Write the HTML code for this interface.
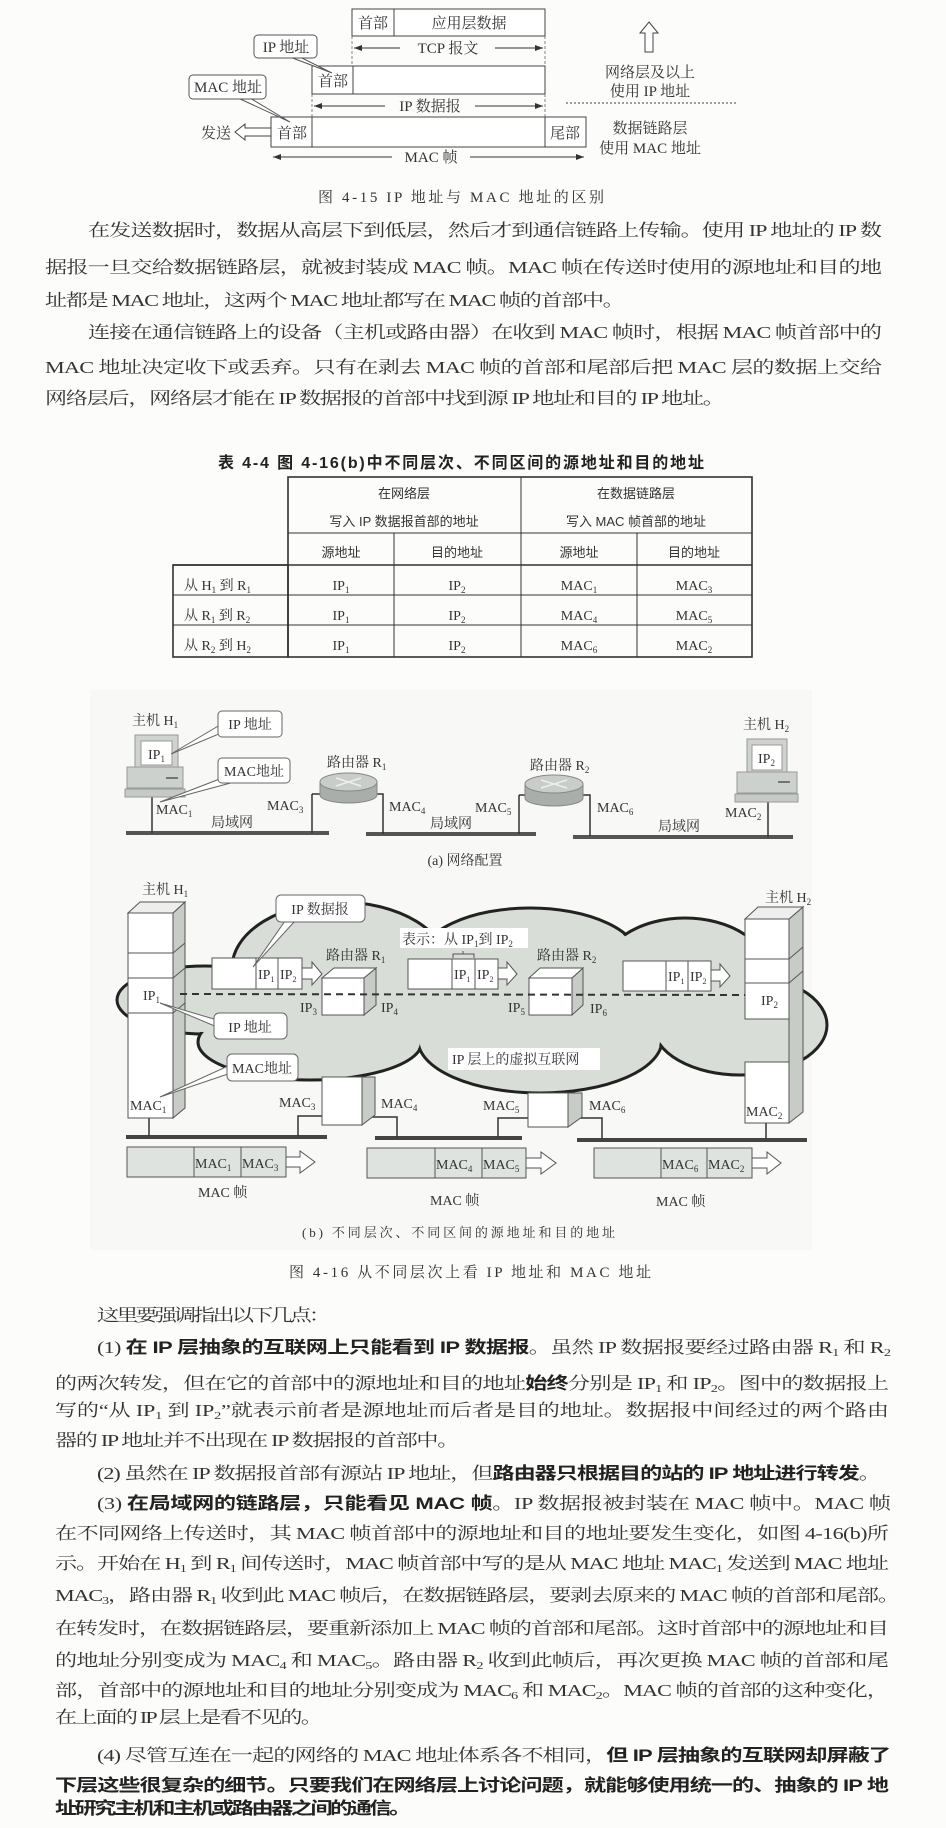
<!DOCTYPE html>
<html><head><meta charset="utf-8"><style>
html,body{margin:0;padding:0;background:#fcfcfb;}
svg{display:block}
.s{font-family:"Liberation Serif","Noto Serif CJK SC",serif;fill:#333;}
.h{font-family:"Liberation Sans","Noto Sans CJK SC",sans-serif;fill:#333;}
.b{font-family:"Liberation Sans","Noto Sans CJK SC",sans-serif;font-weight:bold;fill:#222;}
</style></head><body>
<svg width="946" height="1828" viewBox="0 0 946 1828" xmlns="http://www.w3.org/2000/svg">
<defs>
<marker id="ah" markerWidth="8" markerHeight="6" refX="8" refY="3" orient="auto"><path d="M0,0 L8,3 L0,6 z" fill="#333"/></marker>
</defs>
<rect x="0" y="0" width="946" height="1828" fill="#fcfcfb"/>
<rect x="90" y="690" width="722" height="560" fill="#f8f8f7"/>

<!-- FIG 4-15 -->
<g stroke="#444" stroke-width="1" fill="#fff">
<rect x="352" y="9" width="193" height="27"/>
<line x1="394" y1="9" x2="394" y2="36"/>
<rect x="312" y="66" width="233" height="28"/>
<line x1="353" y1="66" x2="353" y2="94"/>
<rect x="271" y="117" width="315" height="30"/>
<line x1="312" y1="117" x2="312" y2="147"/>
<line x1="545" y1="117" x2="545" y2="147"/>
</g>
<g stroke="#666" stroke-width="0.8" stroke-dasharray="3,2">
<line x1="352" y1="36" x2="352" y2="66"/><line x1="545" y1="36" x2="545" y2="66"/>
<line x1="312" y1="94" x2="312" y2="117"/><line x1="545" y1="94" x2="545" y2="117"/>
</g>
<line x1="566" y1="103" x2="737" y2="103" stroke="#666" stroke-width="1.2" stroke-dasharray="2,2"/>
<g stroke="#333" stroke-width="1">
<line x1="400" y1="48" x2="354" y2="48" marker-end="url(#ah)"/><line x1="495" y1="48" x2="543" y2="48" marker-end="url(#ah)"/>
<line x1="385" y1="106" x2="314" y2="106" marker-end="url(#ah)"/><line x1="475" y1="106" x2="543" y2="106" marker-end="url(#ah)"/>
<line x1="392" y1="157" x2="273" y2="157" marker-end="url(#ah)"/><line x1="470" y1="157" x2="584" y2="157" marker-end="url(#ah)"/>
</g>
<text class="s" font-size="15" x="373" y="28" text-anchor="middle">首部</text>
<text class="s" font-size="15" x="469" y="28" text-anchor="middle">应用层数据</text>
<text class="s" font-size="15" x="448" y="53" text-anchor="middle">TCP 报文</text>
<text class="s" font-size="15" x="333" y="86" text-anchor="middle">首部</text>
<text class="s" font-size="15" x="430" y="111" text-anchor="middle">IP 数据报</text>
<text class="s" font-size="15" x="292" y="138" text-anchor="middle">首部</text>
<text class="s" font-size="15" x="565" y="138" text-anchor="middle">尾部</text>
<text class="s" font-size="15" x="431" y="162" text-anchor="middle">MAC 帧</text>
<text class="s" font-size="15" x="201" y="138">发送</text>
<path d="M235,132 L245,124 L245,128 L271,128 L271,136 L245,136 L245,140 Z" fill="#fff" stroke="#444"/>
<path d="M649,22 L658,33 L653,33 L653,52 L645,52 L645,33 L640,33 Z" fill="#fff" stroke="#444"/>
<text class="s" font-size="15" x="650" y="77" text-anchor="middle">网络层及以上</text>
<text class="s" font-size="15" x="650" y="96" text-anchor="middle">使用 IP 地址</text>
<text class="s" font-size="15" x="650" y="133" text-anchor="middle">数据链路层</text>
<text class="s" font-size="15" x="650" y="153" text-anchor="middle">使用 MAC 地址</text>
<g fill="#fff" stroke="#555">
<path d="M290,57 L332,73 L300,57 Z"/>
<rect x="254" y="35" width="63" height="23" rx="4"/>
<path d="M238,98 L290,122 L250,98 Z"/>
<rect x="189" y="75" width="77" height="24" rx="4"/>
</g>
<text class="s" font-size="15" x="286" y="52" text-anchor="middle">IP 地址</text>
<text class="s" font-size="15" x="228" y="92" text-anchor="middle">MAC 地址</text>
<text class="s" font-size="15" x="318" y="202" textLength="286">图 4-15   IP 地址与 MAC 地址的区别</text>

<!-- paragraph 1 -->
<g class="s" font-size="17">
<text transform="translate(88,236) scale(1.3,1)" textLength="610.8" lengthAdjust="spacing">在发送数据时，数据从高层下到低层，然后才到通信链路上传输。使用 IP 地址的 IP 数</text>
<text transform="translate(45,273) scale(1.3,1)" textLength="643.8" lengthAdjust="spacing">据报一旦交给数据链路层，就被封装成 MAC 帧。MAC 帧在传送时使用的源地址和目的地</text>
<text transform="translate(45,306) scale(1.3,1)" textLength="446" lengthAdjust="spacing">址都是 MAC 地址，这两个 MAC 地址都写在 MAC 帧的首部中。</text>
<text transform="translate(88,338) scale(1.3,1)" textLength="610.8" lengthAdjust="spacing">连接在通信链路上的设备（主机或路由器）在收到 MAC 帧时，根据 MAC 帧首部中的</text>
<text transform="translate(45,373) scale(1.3,1)" textLength="643.8" lengthAdjust="spacing">MAC 地址决定收下或丢弃。只有在剥去 MAC 帧的首部和尾部后把 MAC 层的数据上交给</text>
<text transform="translate(45,404) scale(1.3,1)" textLength="523" lengthAdjust="spacing">网络层后，网络层才能在 IP 数据报的首部中找到源 IP 地址和目的 IP 地址。</text>
</g>

<!-- TABLE -->
<text class="b" font-size="16" x="218" y="468" textLength="486">表 4-4   图 4-16(b)中不同层次、不同区间的源地址和目的地址</text>
<g stroke="#333" fill="none">
<rect x="288" y="477" width="464" height="180" stroke-width="1.6"/>
<rect x="173" y="565" width="115" height="92" stroke-width="1.6"/>
<line x1="288" y1="533" x2="752" y2="533"/>
<line x1="173" y1="565" x2="752" y2="565" stroke-width="1.4"/>
<line x1="173" y1="595" x2="752" y2="595"/>
<line x1="173" y1="625" x2="752" y2="625"/>
<line x1="521" y1="477" x2="521" y2="657"/>
<line x1="394" y1="533" x2="394" y2="657"/>
<line x1="637" y1="533" x2="637" y2="657"/>
</g>
<g class="h" font-size="13" text-anchor="middle">
<text x="404" y="498">在网络层</text><text x="404" y="526">写入 IP 数据报首部的地址</text>
<text x="636" y="498">在数据链路层</text><text x="636" y="526">写入 MAC 帧首部的地址</text>
<text x="341" y="557">源地址</text><text x="457" y="557">目的地址</text>
<text x="579" y="557">源地址</text><text x="694" y="557">目的地址</text>
</g>
<g class="s" font-size="14">
<text x="184" y="590">从 H<tspan font-size="9" dy="3">1</tspan><tspan dy="-3"> 到 R</tspan><tspan font-size="9" dy="3">1</tspan></text>
<text x="184" y="620">从 R<tspan font-size="9" dy="3">1</tspan><tspan dy="-3"> 到 R</tspan><tspan font-size="9" dy="3">2</tspan></text>
<text x="184" y="650">从 R<tspan font-size="9" dy="3">2</tspan><tspan dy="-3"> 到 H</tspan><tspan font-size="9" dy="3">2</tspan></text>
<g text-anchor="middle">
<text x="341" y="590">IP<tspan font-size="9" dy="3">1</tspan></text><text x="457" y="590">IP<tspan font-size="9" dy="3">2</tspan></text>
<text x="579" y="590">MAC<tspan font-size="9" dy="3">1</tspan></text><text x="694" y="590">MAC<tspan font-size="9" dy="3">3</tspan></text>
<text x="341" y="620">IP<tspan font-size="9" dy="3">1</tspan></text><text x="457" y="620">IP<tspan font-size="9" dy="3">2</tspan></text>
<text x="579" y="620">MAC<tspan font-size="9" dy="3">4</tspan></text><text x="694" y="620">MAC<tspan font-size="9" dy="3">5</tspan></text>
<text x="341" y="650">IP<tspan font-size="9" dy="3">1</tspan></text><text x="457" y="650">IP<tspan font-size="9" dy="3">2</tspan></text>
<text x="579" y="650">MAC<tspan font-size="9" dy="3">6</tspan></text><text x="694" y="650">MAC<tspan font-size="9" dy="3">2</tspan></text>
</g></g>

<!-- FIG 4-16 (a) -->
<g fill="#555">
<rect x="126" y="831" width="203" height="4"/>
<rect x="366" y="832" width="170" height="4"/>
<rect x="573" y="835" width="220" height="4"/>
</g>
<g stroke="#333" stroke-width="1.5" fill="none">
<path d="M152,797 V833"/><path d="M312,794 H320 M312,794 V833"/><path d="M377,794 H383 V834"/>
<path d="M519,795 H525 M519,795 V834"/><path d="M583,795 H590 V836"/><path d="M768,802 V837"/>
</g>
<g stroke="#999" stroke-width="1">
<rect x="135" y="735" width="43" height="32" fill="#cfd3cf"/>
<rect x="141" y="741" width="31" height="24" fill="#fff"/>
<rect x="127" y="767" width="56" height="21" fill="#cdd1cd"/>
<rect x="125" y="789" width="60" height="8" fill="#c6cac6"/>
</g>
<line x1="166" y1="778" x2="178" y2="778" stroke="#555" stroke-width="1.5"/>
<g stroke="#999" stroke-width="1">
<rect x="747" y="739" width="40" height="33" fill="#cfd3cf"/>
<rect x="752" y="745" width="30" height="25" fill="#fff"/>
<rect x="737" y="772" width="60" height="21" fill="#cdd1cd"/>
<rect x="735" y="794" width="63" height="8" fill="#c6cac6"/>
</g>
<line x1="778" y1="782" x2="790" y2="782" stroke="#555" stroke-width="1.5"/>
<g stroke="#888" stroke-width="1">
<path d="M320,782 V795 A28.5,8 0 0 0 377,795 V782" fill="#a9aeaa"/>
<ellipse cx="348.5" cy="782" rx="28.5" ry="9" fill="#c9cdc9"/>
<path d="M525,784 V798 A29,8 0 0 0 583,798 V784" fill="#a9aeaa"/>
<ellipse cx="554" cy="784" rx="29" ry="9" fill="#c9cdc9"/>
</g>
<g stroke="#eee" stroke-width="1.5"><path d="M336,778 L361,786 M361,778 L336,786"/><path d="M541,780 L567,788 M567,780 L541,788"/></g>
<g fill="#fff" stroke="#666">
<path d="M171,754 L220,725 L226,731 Z"/>
<rect x="218" y="711" width="64" height="26" rx="4"/>
<path d="M160,802 L230,775 L238,781 Z"/>
<rect x="218" y="758" width="72" height="25" rx="4"/>
</g>
<g class="s" font-size="14">
<text x="132" y="725">主机 H<tspan font-size="9" dy="3">1</tspan></text>
<text x="743" y="729">主机 H<tspan font-size="9" dy="3">2</tspan></text>
<text x="148" y="759">IP<tspan font-size="9" dy="3">1</tspan></text>
<text x="758" y="763">IP<tspan font-size="9" dy="3">2</tspan></text>
<text x="250" y="729" text-anchor="middle">IP 地址</text>
<text x="254" y="776" text-anchor="middle">MAC地址</text>
<text x="327" y="767">路由器 R<tspan font-size="9" dy="3">1</tspan></text>
<text x="530" y="770">路由器 R<tspan font-size="9" dy="3">2</tspan></text>
<text x="156" y="814">MAC<tspan font-size="9" dy="3">1</tspan></text>
<text x="267" y="810">MAC<tspan font-size="9" dy="3">3</tspan></text>
<text x="389" y="811">MAC<tspan font-size="9" dy="3">4</tspan></text>
<text x="475" y="812">MAC<tspan font-size="9" dy="3">5</tspan></text>
<text x="597" y="812">MAC<tspan font-size="9" dy="3">6</tspan></text>
<text x="725" y="817">MAC<tspan font-size="9" dy="3">2</tspan></text>
<text x="211" y="827">局域网</text><text x="430" y="828">局域网</text><text x="658" y="831">局域网</text>
<text x="465" y="865" text-anchor="middle">(a) 网络配置</text>
</g>

<!-- FIG 4-16 (b) cloud -->
<g stroke="#222" stroke-width="3" fill="#d9ddd8">
<ellipse cx="205" cy="1000" rx="88" ry="34"/>
<ellipse cx="340" cy="968" rx="108" ry="66"/>
<ellipse cx="310" cy="1042" rx="112" ry="38"/>
<ellipse cx="530" cy="960" rx="110" ry="52"/>
<ellipse cx="540" cy="1040" rx="122" ry="53"/>
<ellipse cx="685" cy="975" rx="85" ry="57"/>
<ellipse cx="740" cy="1025" rx="87" ry="50"/>
</g>
<g fill="#d9ddd8">
<ellipse cx="205" cy="1000" rx="86" ry="32"/>
<ellipse cx="340" cy="968" rx="106" ry="64"/>
<ellipse cx="310" cy="1042" rx="110" ry="36"/>
<ellipse cx="530" cy="960" rx="108" ry="50"/>
<ellipse cx="540" cy="1040" rx="120" ry="51"/>
<ellipse cx="685" cy="975" rx="83" ry="55"/>
<ellipse cx="740" cy="1025" rx="85" ry="48"/>
<rect x="260" y="960" width="440" height="80"/>
</g>
<g fill="#444">
<rect x="126" y="1135" width="201" height="4"/>
<rect x="375" y="1136" width="147" height="4"/>
<rect x="577" y="1138" width="230" height="4"/>
</g>
<g stroke="#333" stroke-width="1.5" fill="none">
<path d="M149,1118 V1136"/><path d="M298,1136 V1116 H322"/><path d="M367,1117 H397 V1137"/>
<path d="M498,1137 V1118 H528"/><path d="M575,1118 H602 V1139"/><path d="M766,1123 V1139"/>
</g>
<g stroke="#555" stroke-width="1">
<path d="M173,913 L185,902 L185,1108 L173,1118 Z" fill="#c7ccc7"/>
<path d="M128,913 L140,902 L185,902 L173,913 Z" fill="#eee"/>
<rect x="128" y="913" width="45" height="205" fill="#fff"/>
<line x1="128" y1="953" x2="173" y2="953"/><line x1="128" y1="978" x2="173" y2="978"/><line x1="128" y1="1013" x2="173" y2="1013"/>
<line x1="173" y1="953" x2="185" y2="943"/><line x1="173" y1="978" x2="185" y2="968"/><line x1="173" y1="1013" x2="185" y2="1003"/>
</g>
<g stroke="#555" stroke-width="1">
<path d="M789,919 L803,907 L803,1112 L789,1123 Z" fill="#c7ccc7"/>
<path d="M745,919 L758,907 L803,907 L789,919 Z" fill="#eee"/>
<rect x="745" y="919" width="44" height="100" fill="#fff"/>
<rect x="745" y="1062" width="44" height="61" fill="#fff"/>
<line x1="745" y1="959" x2="789" y2="959"/><line x1="745" y1="983" x2="789" y2="983"/>
<line x1="789" y1="959" x2="803" y2="947"/><line x1="789" y1="983" x2="803" y2="971"/>
</g>
<g stroke="#555" stroke-width="1">
<path d="M364,978 L376,968 L376,1005 L364,1015 Z" fill="#c7ccc7"/>
<path d="M322,978 L334,968 L376,968 L364,978 Z" fill="#fff"/>
<rect x="322" y="978" width="42" height="37" fill="#fff"/>
<path d="M362,1077 L375,1077 L375,1115 L362,1125 Z" fill="#c7ccc7"/>
<rect x="322" y="1077" width="40" height="48" fill="#fff"/>
<path d="M572,978 L583,968 L583,1005 L572,1015 Z" fill="#c7ccc7"/>
<path d="M529,978 L540,968 L583,968 L572,978 Z" fill="#fff"/>
<rect x="529" y="978" width="43" height="37" fill="#fff"/>
<path d="M568,1093 L582,1093 L582,1117 L568,1127 Z" fill="#c7ccc7"/>
<rect x="528" y="1093" width="40" height="34" fill="#fff"/>
</g>
<line x1="180" y1="994" x2="745" y2="995" stroke="#333" stroke-width="2" stroke-dasharray="7,5"/>
<g stroke="#555" stroke-width="1" fill="#fff">
<rect x="212" y="958" width="90" height="31"/><line x1="256" y1="958" x2="256" y2="989"/><line x1="278" y1="958" x2="278" y2="989"/>
<path d="M302,968 L312,968 L312,962 L322,974 L312,985 L312,979 L302,979 Z"/>
<rect x="408" y="959" width="90" height="30"/><line x1="452" y1="959" x2="452" y2="989"/><line x1="475" y1="959" x2="475" y2="989"/>
<path d="M498,968 L507,968 L507,962 L517,974 L507,985 L507,979 L498,979 Z"/>
<rect x="623" y="961" width="88" height="30"/><line x1="666" y1="961" x2="666" y2="991"/><line x1="688" y1="961" x2="688" y2="991"/>
<path d="M711,970 L720,970 L720,964 L730,976 L720,987 L720,981 L711,981 Z"/>
</g>
<path d="M453,958 V954 H474 V958 M463,954 V951" stroke="#555" fill="none"/>
<g stroke="#555" stroke-width="1">
<rect x="127" y="1147" width="159" height="30" fill="#dfe3df"/><line x1="194" y1="1147" x2="194" y2="1177"/><line x1="241" y1="1147" x2="241" y2="1177"/>
<path d="M286,1157 L300,1157 L300,1151 L315,1162 L300,1173 L300,1167 L286,1167 Z" fill="#fff"/>
<rect x="367" y="1148" width="159" height="30" fill="#dfe3df"/><line x1="435" y1="1148" x2="435" y2="1178"/><line x1="482" y1="1148" x2="482" y2="1178"/>
<path d="M526,1158 L541,1158 L541,1152 L556,1163 L541,1174 L541,1168 L526,1168 Z" fill="#fff"/>
<rect x="594" y="1148" width="158" height="30" fill="#dfe3df"/><line x1="661" y1="1148" x2="661" y2="1178"/><line x1="707" y1="1148" x2="707" y2="1178"/>
<path d="M752,1158 L767,1158 L767,1152 L781,1163 L767,1174 L767,1168 L752,1168 Z" fill="#fff"/>
</g>
<g fill="#fff" stroke="#666">
<path d="M253,967 L285,921 L295,921 Z"/>
<rect x="276" y="895" width="89" height="27" rx="5"/>
<path d="M160,1003 L217,1020 L217,1027 Z"/>
<rect x="214" y="1013" width="73" height="26" rx="5"/>
<path d="M160,1097 L228,1066 L228,1074 Z"/>
<rect x="227" y="1054" width="71" height="27" rx="5"/>
</g>
<rect x="448" y="1048" width="152" height="22" fill="#fff"/>
<rect x="400" y="928" width="128" height="20" fill="#fff"/>
<g class="s" font-size="14">
<text x="142" y="894">主机 H<tspan font-size="9" dy="3">1</tspan></text>
<text x="765" y="902">主机 H<tspan font-size="9" dy="3">2</tspan></text>
<text x="320" y="914" text-anchor="middle">IP 数据报</text>
<text x="250" y="1032" text-anchor="middle">IP 地址</text>
<text x="262" y="1073" text-anchor="middle">MAC地址</text>
<text x="452" y="1064">IP 层上的虚拟互联网</text>
<text x="402" y="944">表示：从 IP<tspan font-size="9" dy="3">1</tspan><tspan dy="-3">到 IP</tspan><tspan font-size="9" dy="3">2</tspan></text>
<text x="326" y="960">路由器 R<tspan font-size="9" dy="3">1</tspan></text>
<text x="537" y="960">路由器 R<tspan font-size="9" dy="3">2</tspan></text>
<text x="258" y="979">IP<tspan font-size="8" dy="3">1</tspan></text><text x="280" y="979">IP<tspan font-size="8" dy="3">2</tspan></text>
<text x="454" y="979">IP<tspan font-size="8" dy="3">1</tspan></text><text x="477" y="979">IP<tspan font-size="8" dy="3">2</tspan></text>
<text x="668" y="981">IP<tspan font-size="8" dy="3">1</tspan></text><text x="690" y="981">IP<tspan font-size="8" dy="3">2</tspan></text>
<text x="143" y="1000">IP<tspan font-size="9" dy="3">1</tspan></text>
<text x="761" y="1005">IP<tspan font-size="9" dy="3">2</tspan></text>
<text x="300" y="1012">IP<tspan font-size="9" dy="3">3</tspan></text>
<text x="381" y="1012">IP<tspan font-size="9" dy="3">4</tspan></text>
<text x="508" y="1012">IP<tspan font-size="9" dy="3">5</tspan></text>
<text x="590" y="1013">IP<tspan font-size="9" dy="3">6</tspan></text>
<text x="130" y="1110">MAC<tspan font-size="9" dy="3">1</tspan></text>
<text x="279" y="1107">MAC<tspan font-size="9" dy="3">3</tspan></text>
<text x="381" y="1108">MAC<tspan font-size="9" dy="3">4</tspan></text>
<text x="483" y="1110">MAC<tspan font-size="9" dy="3">5</tspan></text>
<text x="589" y="1110">MAC<tspan font-size="9" dy="3">6</tspan></text>
<text x="746" y="1116">MAC<tspan font-size="9" dy="3">2</tspan></text>
<text x="195" y="1168">MAC<tspan font-size="9" dy="3">1</tspan></text><text x="242" y="1168">MAC<tspan font-size="9" dy="3">3</tspan></text>
<text x="436" y="1169">MAC<tspan font-size="9" dy="3">4</tspan></text><text x="483" y="1169">MAC<tspan font-size="9" dy="3">5</tspan></text>
<text x="662" y="1169">MAC<tspan font-size="9" dy="3">6</tspan></text><text x="708" y="1169">MAC<tspan font-size="9" dy="3">2</tspan></text>
<text x="198" y="1197">MAC 帧</text><text x="430" y="1205">MAC 帧</text><text x="656" y="1206">MAC 帧</text>
<text x="302" y="1237" font-size="13" textLength="313">(b) 不同层次、不同区间的源地址和目的地址</text>
<text x="289" y="1277" font-size="15" textLength="362">图 4-16   从不同层次上看 IP 地址和 MAC 地址</text>
</g>

<!-- paragraph 2 -->
<g class="s" font-size="17">
<text transform="translate(97,1321) scale(1.3,1)" textLength="180" lengthAdjust="spacing">这里要强调指出以下几点：</text>
<text transform="translate(97,1353) scale(1.3,1)" textLength="610.8" lengthAdjust="spacing">(1) <tspan class="b">在 IP 层抽象的互联网上只能看到 IP 数据报</tspan>。虽然 IP 数据报要经过路由器 R<tspan font-size="11" dy="3">1</tspan><tspan dy="-3"> 和 R</tspan><tspan font-size="11" dy="3">2</tspan></text>
<text transform="translate(55,1389) scale(1.3,1)" textLength="641.5" lengthAdjust="spacing">的两次转发，但在它的首部中的源地址和目的地址<tspan class="b">始终</tspan>分别是 IP<tspan font-size="11" dy="3">1</tspan><tspan dy="-3"> 和 IP</tspan><tspan font-size="11" dy="3">2</tspan><tspan dy="-3">。图中的数据报上</tspan></text>
<text transform="translate(55,1416) scale(1.3,1)" textLength="641.5" lengthAdjust="spacing">写的“从 IP<tspan font-size="11" dy="3">1</tspan><tspan dy="-3"> 到 IP</tspan><tspan font-size="11" dy="3">2</tspan><tspan dy="-3">”就表示前者是源地址而后者是目的地址。数据报中间经过的两个路由</tspan></text>
<text transform="translate(55,1446) scale(1.3,1)" textLength="311" lengthAdjust="spacing">器的 IP 地址并不出现在 IP 数据报的首部中。</text>
<text transform="translate(97,1479) scale(1.3,1)" textLength="603" lengthAdjust="spacing">(2) 虽然在 IP 数据报首部有源站 IP 地址，但<tspan class="b">路由器只根据目的站的 IP 地址进行转发</tspan>。</text>
<text transform="translate(97,1509) scale(1.3,1)" textLength="610.8" lengthAdjust="spacing">(3) <tspan class="b">在局域网的链路层，只能看见 MAC 帧</tspan>。IP 数据报被封装在 MAC 帧中。MAC 帧</text>
<text transform="translate(55,1539) scale(1.3,1)" textLength="641.5" lengthAdjust="spacing">在不同网络上传送时，其 MAC 帧首部中的源地址和目的地址要发生变化，如图 4-16(b)所</text>
<text transform="translate(55,1569) scale(1.3,1)" textLength="641.5" lengthAdjust="spacing">示。开始在 H<tspan font-size="11" dy="3">1</tspan><tspan dy="-3"> 到 R</tspan><tspan font-size="11" dy="3">1</tspan><tspan dy="-3"> 间传送时，MAC 帧首部中写的是从 MAC 地址 MAC</tspan><tspan font-size="11" dy="3">1</tspan><tspan dy="-3"> 发送到 MAC 地址</tspan></text>
<text transform="translate(55,1601) scale(1.3,1)" textLength="650" lengthAdjust="spacing">MAC<tspan font-size="11" dy="3">3</tspan><tspan dy="-3">，路由器 R</tspan><tspan font-size="11" dy="3">1</tspan><tspan dy="-3"> 收到此 MAC 帧后，在数据链路层，要剥去原来的 MAC 帧的首部和尾部。</tspan></text>
<text transform="translate(55,1634) scale(1.3,1)" textLength="641.5" lengthAdjust="spacing">在转发时，在数据链路层，要重新添加上 MAC 帧的首部和尾部。这时首部中的源地址和目</text>
<text transform="translate(55,1666) scale(1.3,1)" textLength="641.5" lengthAdjust="spacing">的地址分别变成为 MAC<tspan font-size="11" dy="3">4</tspan><tspan dy="-3"> 和 MAC</tspan><tspan font-size="11" dy="3">5</tspan><tspan dy="-3">。路由器 R</tspan><tspan font-size="11" dy="3">2</tspan><tspan dy="-3"> 收到此帧后，再次更换 MAC 帧的首部和尾</tspan></text>
<text transform="translate(55,1696) scale(1.3,1)" textLength="641.5" lengthAdjust="spacing">部，首部中的源地址和目的地址分别变成为 MAC<tspan font-size="11" dy="3">6</tspan><tspan dy="-3"> 和 MAC</tspan><tspan font-size="11" dy="3">2</tspan><tspan dy="-3">。MAC 帧的首部的这种变化，</tspan></text>
<text transform="translate(55,1723) scale(1.3,1)" textLength="206" lengthAdjust="spacing">在上面的 IP 层上是看不见的。</text>
<text transform="translate(97,1761) scale(1.3,1)" textLength="610.8" lengthAdjust="spacing">(4) 尽管互连在一起的网络的 MAC 地址体系各不相同，<tspan class="b">但 IP 层抽象的互联网却屏蔽了</tspan></text>
<text class="b" transform="translate(55,1791) scale(1.3,1)" textLength="641.5" lengthAdjust="spacing">下层这些很复杂的细节。只要我们在网络层上讨论问题，就能够使用统一的、抽象的 IP 地</text>
<text class="b" transform="translate(55,1814) scale(1.3,1)" textLength="274" lengthAdjust="spacing">址研究主机和主机或路由器之间的通信。</text>
</g>
</svg>
</body></html>
